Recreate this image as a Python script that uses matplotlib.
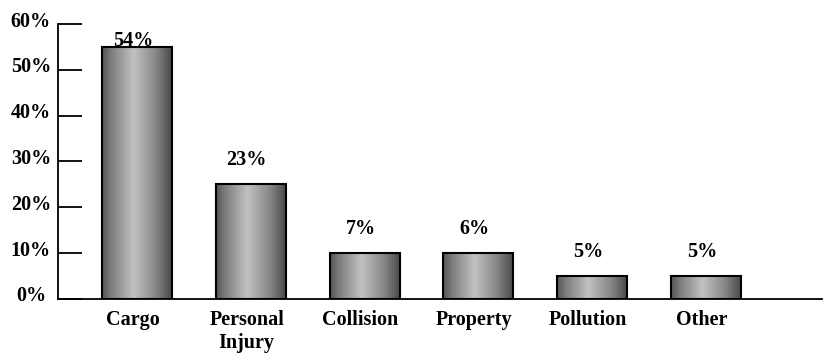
import numpy as np
import matplotlib
matplotlib.use("Agg")
import matplotlib.pyplot as plt
from matplotlib.transforms import ScaledTranslation

# chart data
categories = ["Cargo", "Personal\nInjury", "Collision", "Property", "Pollution", "Other"]
bar_heights = [55, 25, 10, 10, 5, 5]          # height the bars are drawn at
bar_labels = ["54%", "23%", "7%", "6%", "5%", "5%"]
yticks = [0, 10, 20, 30, 40, 50, 60]
ytick_labels = ["0%", "10%", "20%", "30%", "40%", "50%", "60%"]

plt.rcParams['font.family'] = ['Liberation Serif', 'DejaVu Serif']
plt.rcParams['font.weight'] = 'bold'

fig = plt.figure(figsize=(8.25, 3.54), dpi=100)
ax = fig.add_axes([0.0703, 0.1554, 0.926, 0.7768])

x = np.arange(len(categories))
width = 0.615

# cylinder-like shading across each bar
t = np.linspace(0, 1, 200)
shade = np.interp(t, [0, 0.12, 0.45, 0.78, 1.0], [0.33, 0.48, 0.76, 0.52, 0.29])
grad = np.tile(shade, (2, 1))

for xi, h in zip(x, bar_heights):
    ax.imshow(grad, cmap='gray', vmin=0, vmax=1, aspect='auto',
              extent=(xi - width / 2, xi + width / 2, 0, h), zorder=2,
              interpolation='bilinear')
ax.bar(x, bar_heights, width=width, facecolor='none', edgecolor='black',
       linewidth=1.5, zorder=3)

shift = ScaledTranslation(-4 / 100, 0, fig.dpi_scale_trans)
for xi, h, lab in zip(x, bar_heights, bar_labels):
    ax.text(xi, min(h + 5.3, 56.3), lab, ha='center', va='center',
            fontsize=14.5, fontweight='bold', transform=ax.transData + shift,
            zorder=4)

ax.set_xlim(-0.694, 6.02)
ax.set_ylim(0, 60)

ax.set_yticks(yticks)
ax.set_yticklabels(ytick_labels, fontsize=14.5, fontweight='bold', ha='center')
ax.tick_params(axis='y', direction='in', length=17, width=1.3, pad=19.5)
for lab in ax.get_yticklabels():
    lab.set_transform(lab.get_transform() + ScaledTranslation(0, 5 / 100, fig.dpi_scale_trans))

ax.set_xticks(x)
ax.set_xticklabels(categories, fontsize=14.5, fontweight='bold', linespacing=1.2)
ax.tick_params(axis='x', length=0, pad=8)
for lab in ax.get_xticklabels():
    lab.set_transform(lab.get_transform() + shift)

for side in ['top', 'right']:
    ax.spines[side].set_visible(False)
ax.spines['left'].set_linewidth(1.3)
ax.spines['bottom'].set_linewidth(1.3)
ax.spines['bottom'].set_zorder(5)

fig.savefig("out.png", dpi=100)
